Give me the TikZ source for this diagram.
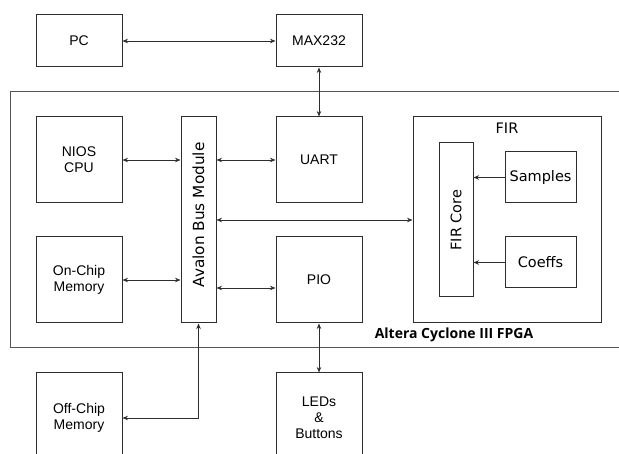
\documentclass[tikz,border=0pt]{standalone}
\usepackage{fontspec}
\setmainfont{Liberation Sans}
\newfontfamily\dvfont{DejaVu Sans}
\newfontfamily\tagfont{Open Sans}
\usetikzlibrary{arrows.meta,positioning,calc}
\definecolor{LineDark}{RGB}{45,45,45}
\definecolor{FrameGray}{RGB}{85,85,85}
\tikzset{
  blk/.style    ={rectangle, draw=LineDark, line width=1pt, minimum width=86pt,
                  minimum height=86pt, align=center, inner sep=0pt,
                  font=\fontsize{14}{16}\selectfont},
  blkdv/.style  ={rectangle, draw=LineDark, line width=1pt, align=center, inner sep=0pt,
                  font=\dvfont\fontsize{14.5}{17}\selectfont},
  dvtext/.style ={inner sep=0pt, font=\dvfont\fontsize{14.5}{17}\selectfont},
  arr/.style    ={<->, >={Stealth[length=5.5pt,width=4.5pt]}, draw=LineDark, line width=.9pt},
  arrone/.style ={->, >={Stealth[length=5.5pt,width=4.5pt]}, draw=LineDark, line width=.9pt},
}
\begin{document}
\begin{tikzpicture}[x=1pt,y=-1pt]
  \useasboundingbox (0,0) rectangle (619,454);
  \clip (0,0) rectangle (619,454);
  \node[draw=FrameGray, line width=1pt, minimum width=640pt, minimum height=256pt,
        anchor=north west, inner sep=0pt] (fpga) at (10,91) {};
  \node[blk,minimum height=52pt] (pc) at (79,41) {PC};
  \node[blk,minimum height=52pt] (max) at (319,41) {MAX232};
  \node[blk] (nios) at (79,160) {NIOS\\CPU};
  \node[blk] (uart) at (319,160) {UART};
  \node[blk] (onchip) at (79,280) {On-Chip\\Memory};
  \node[blk] (pio) at (319,280) {PIO};
  \node[blkdv,minimum width=35pt,minimum height=206pt] (bus) at (198.5,220) {};
  \node[dvtext,rotate=90,font=\dvfont\fontsize{15.3}{17}\selectfont] (bustxt) at (198.5,215) {Avalon Bus Module};
  \node[blkdv,minimum width=188pt,minimum height=206pt] (fir) at (507,220) {};
  \node[dvtext] (firtxt) at ($(fir.north)+(0,12)$) {FIR};
  \node[blkdv,minimum width=34pt,minimum height=154pt] (core) at (456,220) {};
  \node[dvtext,rotate=90] (coretxt) at (core) {FIR Core};
  \node[blkdv,minimum width=71pt,minimum height=51pt] (samples) at (540.5,177.5) {Samples};
  \node[blkdv,minimum width=71pt,minimum height=51pt] (coeffs) at (540.5,262.5) {Coeffs};
  \node[blk,minimum height=90pt] (offchip) at (79,418) {Off-Chip\\Memory};
  \node[blk,minimum height=90pt] (leds) at (319,418) {LEDs\\\&\\Buttons};
  \node[font=\tagfont\bfseries\fontsize{14}{16}\selectfont] (tag) at (454,335) {Altera Cyclone III FPGA};
  % links
  \draw[arr] (pc) -- (max);
  \draw[arr] (max) -- (uart);
  \draw[arr] (nios) -- (nios -| bus.west);
  \draw[arr] (uart -| bus.east) -- (uart);
  \draw[arr] (onchip) -- (onchip -| bus.west);
  \draw[arr] ($(pio.west -| bus.east)+(0,8)$) -- ($(pio.west)+(0,8)$);
  \draw[arr] (bus.east) -- (bus.east -| fir.west);
  \draw[arrone] (samples) -- (samples -| core.east);
  \draw[arrone] (coeffs) -- (coeffs -| core.east);
  \draw[arr] (pio) -- (leds);
  \draw[arr] (bus.south) |- (offchip.east);
\end{tikzpicture}
\end{document}
